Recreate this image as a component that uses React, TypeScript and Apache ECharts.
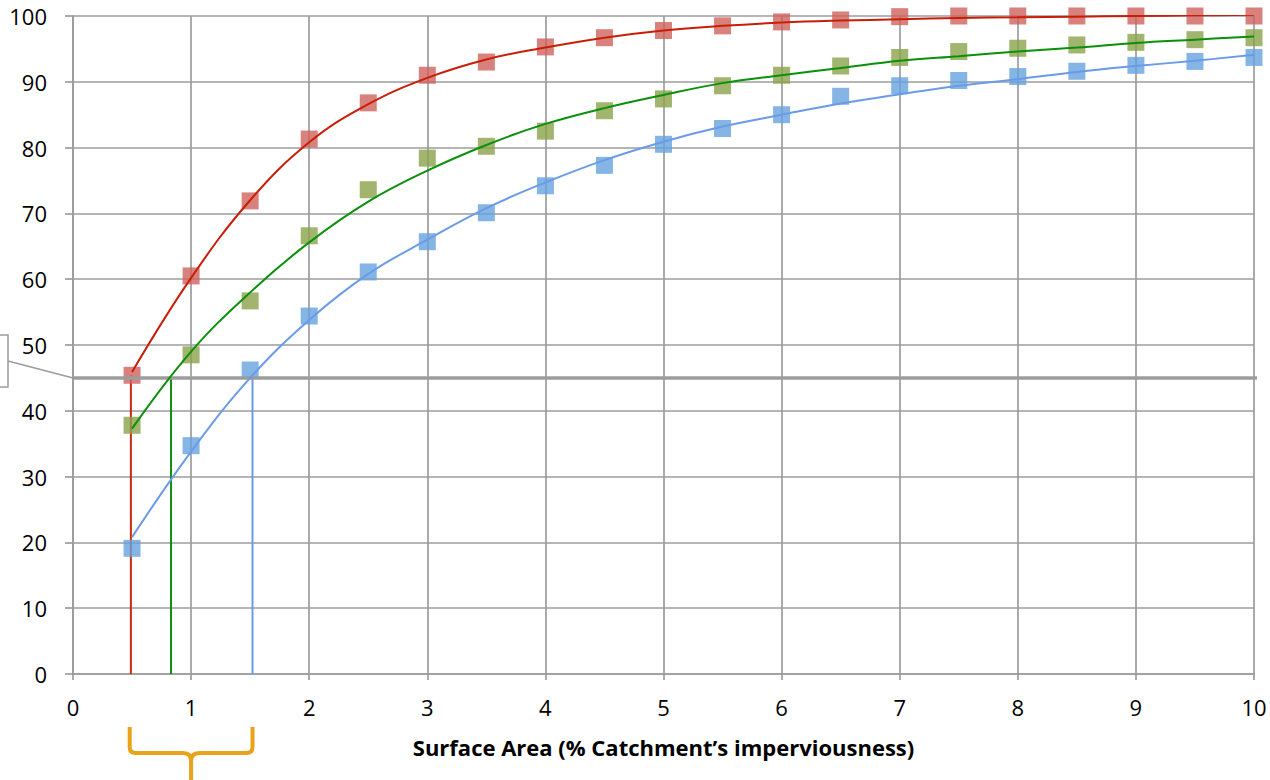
import React, { useEffect, useRef } from "react";
import * as echarts from "echarts";

const xValues = [0.5, 1, 1.5, 2, 2.5, 3, 3.5, 4, 4.5, 5, 5.5, 6, 6.5, 7, 7.5, 8, 8.5, 9, 9.5, 10];
const redPoints = [45.4, 60.5, 71.9, 81.3, 86.8, 91.0, 93.0, 95.3, 96.7, 97.8, 98.5, 99.1, 99.4, 99.9, 100, 100, 100, 100, 100, 100];
const greenPoints = [37.8, 48.5, 56.7, 66.6, 73.6, 78.4, 80.2, 82.5, 85.6, 87.4, 89.4, 91.0, 92.4, 93.7, 94.6, 95.1, 95.6, 96.0, 96.4, 96.7];
const bluePoints = [19.1, 34.7, 46.2, 54.4, 61.1, 65.7, 70.1, 74.2, 77.3, 80.5, 82.9, 85.0, 87.8, 89.4, 90.2, 90.8, 91.6, 92.5, 93.1, 93.7];

const redTrend = [45.9, 60.2, 72.0, 80.8, 86.6, 90.6, 93.4, 95.2, 96.7, 97.8, 98.5, 99.0, 99.3, 99.5, 99.7, 99.8, 99.9, 100, 100.1, 100.2];
const greenTrend = [37.3, 49.0, 58.0, 65.6, 71.8, 76.5, 80.4, 83.6, 86.0, 88.0, 89.8, 91.0, 92.1, 93.2, 93.9, 94.6, 95.2, 95.9, 96.4, 96.9];
const blueTrend = [20.8, 33.8, 45.0, 53.8, 60.8, 66.0, 70.8, 74.7, 78.1, 80.9, 83.2, 85.0, 86.7, 88.1, 89.4, 90.4, 91.5, 92.4, 93.2, 94.1];

const thresholdY = 45;
const dropX = { red: 0.49, green: 0.83, blue: 1.52 };
const braceRange = [0.48, 1.52];
const xTitle = "Surface Area (% Catchment\u2019s imperviousness)";

const FONT = "'Open Sans', 'Noto Sans', sans-serif";

export default function App() {
  const ref = useRef<HTMLDivElement>(null);
  useEffect(() => {
    if (!ref.current) return;
    const chart = echarts.init(ref.current, null, { renderer: "svg" });
    const pair = (ys: number[]) => xValues.map((x, i) => [x, ys[i]]);
    const grey = "#9c9c9c";
    chart.setOption({
      animation: false,
      backgroundColor: "#ffffff",
      grid: { left: 73, right: 16, top: 16, bottom: 106, containLabel: false },
      xAxis: {
        type: "value",
        min: 0,
        max: 10,
        interval: 1,
        name: xTitle,
        nameLocation: "middle",
        nameGap: 62,
        nameTextStyle: { fontFamily: FONT, fontWeight: "bold", fontSize: 22, color: "#000" },
        axisLine: { show: true, onZero: false, lineStyle: { color: grey, width: 1.7 } },
        axisTick: { show: true, length: 6, lineStyle: { color: grey, width: 1.7 } },
        axisLabel: { fontFamily: FONT, fontSize: 22, color: "#000", margin: 22 },
        splitLine: { show: true, lineStyle: { color: grey, width: 1.7 } },
      },
      yAxis: {
        type: "value",
        min: 0,
        max: 100,
        interval: 10,
        axisLine: { show: true, lineStyle: { color: grey, width: 1.7 } },
        axisTick: { show: true, length: 8, lineStyle: { color: grey, width: 1.7 } },
        axisLabel: { fontFamily: FONT, fontSize: 22, color: "#000", margin: 26 },
        splitLine: { show: true, lineStyle: { color: grey, width: 1.7 } },
      },
      series: [
        { type: "line", data: [[dropX.red, 0], [dropX.red, redPoints[0]]], symbol: "none", lineStyle: { color: "#cc2a10", width: 2 }, z: 3 },
        { type: "line", data: [[dropX.green, 0], [dropX.green, thresholdY]], symbol: "none", lineStyle: { color: "#109010", width: 2 }, z: 3 },
        { type: "line", data: [[dropX.blue, 0], [dropX.blue, thresholdY]], symbol: "none", lineStyle: { color: "#6a9be8", width: 2 }, z: 3 },
        { type: "scatter", data: pair(redPoints), symbol: "rect", symbolSize: 17, itemStyle: { color: "#d0635c" }, z: 4 },
        { type: "scatter", data: pair(greenPoints), symbol: "rect", symbolSize: 17, itemStyle: { color: "#8aa34a" }, z: 4 },
        { type: "scatter", data: pair(bluePoints), symbol: "rect", symbolSize: 17, itemStyle: { color: "#66a2df" }, z: 4 },
        { type: "line", data: [[0, thresholdY], [10.05, thresholdY]], symbol: "none", clip: false, lineStyle: { color: grey, width: 3.5 }, z: 5 },
        { type: "line", data: pair(redTrend), smooth: 0.4, symbol: "none", lineStyle: { color: "#c81e06", width: 2 }, z: 6 },
        { type: "line", data: pair(greenTrend), smooth: 0.4, symbol: "none", lineStyle: { color: "#0a900a", width: 2 }, z: 6 },
        { type: "line", data: pair(blueTrend), smooth: 0.4, symbol: "none", lineStyle: { color: "#6a9be8", width: 2 }, z: 6 },
      ],
    });

    const p0 = chart.convertToPixel({ gridIndex: 0 }, [0, thresholdY]) as number[];
    const bl = chart.convertToPixel({ gridIndex: 0 }, [braceRange[0], 0]) as number[];
    const br = chart.convertToPixel({ gridIndex: 0 }, [braceRange[1], 0]) as number[];
    const L = bl[0], R = br[0], C = (L + R) / 2;
    const T = bl[1] + 53, M = T + 26, B = 800;
    const d = `M${L},${T} L${L},${M - 6} Q${L},${M} ${L + 6},${M} L${C - 8},${M} Q${C},${M} ${C},${M + 8} L${C},${B} M${R},${T} L${R},${M - 6} Q${R},${M} ${R - 6},${M} L${C + 8},${M} Q${C},${M} ${C},${M + 8}`;
    echarts.graphic.registerShape("brace", echarts.graphic.extendPath(d, {}));

    chart.setOption({
      graphic: [
        {
          type: "rect",
          shape: { x: -20, y: p0[1] - 43, width: 28, height: 52 },
          style: { stroke: grey, fill: "#ffffff", lineWidth: 1.5 },
          z: 10,
        },
        {
          type: "line",
          shape: { x1: 8, y1: p0[1] - 17, x2: p0[0], y2: p0[1] },
          style: { stroke: grey, lineWidth: 1.5 },
          z: 10,
        },
        {
          type: "brace",
          x: 0,
          y: 0,
          style: { stroke: "#e9a21a", lineWidth: 4, fill: "none" },
          z: 10,
        },
      ],
    });
    return () => chart.dispose();
  }, []);
  return <div ref={ref} style={{ position: "fixed", left: 0, top: 0, width: 1270, height: 780 }} />;
}
